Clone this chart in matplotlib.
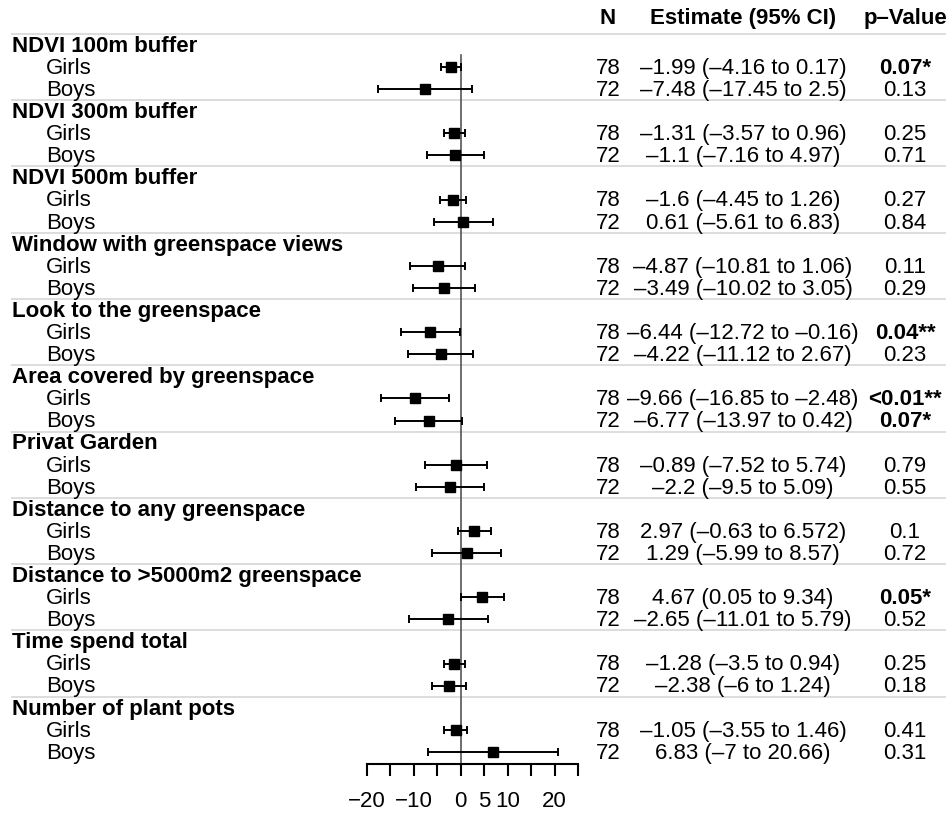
import matplotlib
matplotlib.use("Agg")
import matplotlib.pyplot as plt
import matplotlib.transforms as mtransforms
import numpy as np

plt.rcParams['font.family'] = ['Liberation Sans', 'DejaVu Sans']

# exposures (one group per exposure, girls and boys inside each)
groups = ['NDVI 100m buffer', 'NDVI 300m buffer', 'NDVI 500m buffer',
          'Window with greenspace views', 'Look to the greenspace',
          'Area covered by greenspace', 'Privat Garden', 'Distance to any greenspace',
          'Distance to >5000m2 greenspace', 'Time spend total', 'Number of plant pots']
sexes = ['Girls', 'Boys']
n_girls, n_boys = 78, 72

est_girls = [-1.99, -1.31, -1.6, -4.87, -6.44, -9.66, -0.89, 2.97, 4.67, -1.28, -1.05]
lo_girls = [-4.16, -3.57, -4.45, -10.81, -12.72, -16.85, -7.52, -0.63, 0.05, -3.5, -3.55]
hi_girls = [0.17, 0.96, 1.26, 1.06, -0.16, -2.48, 5.74, 6.572, 9.34, 0.94, 1.46]
p_girls = ['0.07*', '0.25', '0.27', '0.11', '0.04**', '<0.01**', '0.79', '0.1', '0.05*', '0.25', '0.41']

est_boys = [-7.48, -1.1, 0.61, -3.49, -4.22, -6.77, -2.2, 1.29, -2.65, -2.38, 6.83]
lo_boys = [-17.45, -7.16, -5.61, -10.02, -11.12, -13.97, -9.5, -5.99, -11.01, -6, -7]
hi_boys = [2.5, 4.97, 6.83, 3.05, 2.67, 0.42, 5.09, 8.57, 5.79, 1.24, 20.66]
p_boys = ['0.13', '0.71', '0.84', '0.29', '0.23', '0.07*', '0.55', '0.72', '0.52', '0.18', '0.31']

xticks = [-20, -15, -10, -5, 0, 5, 10, 15, 20, 25]
xtick_labels = ['\u221220', '', '\u221210', '', '0', '5', '10', '', '20', '']


def fmt(v):
    return f'{v:g}'.replace('-', '\u2013')


def est_text(e, lo, hi):
    return f'{fmt(e)} ({fmt(lo)} to {fmt(hi)})'


W, H = 946, 813
fig = plt.figure(figsize=(W / 100, H / 100), dpi=100)

# background axes in pixel units, used for the table part
bg = fig.add_axes([0, 0, 1, 1])
bg.set_xlim(0, W)
bg.set_ylim(H, 0)
bg.axis('off')

# forest panel
row0, row_h = 45, 22.09
ax_top, ax_bot = 33, 764
ax_l, ax_r = 366.5, 578
ax = fig.add_axes([ax_l / W, (H - ax_bot) / H, (ax_r - ax_l) / W, (ax_bot - ax_top) / H])
ax.set_xlim(-20, 25)
ax.set_ylim((ax_bot - row0) / row_h, (ax_top - row0) / row_h)
ax.patch.set_alpha(0)

trans = mtransforms.blended_transform_factory(bg.transData, ax.transData)

rows_g = np.arange(len(groups)) * 3
rows_girls = rows_g + 1
rows_boys = rows_g + 2

fs = 16
dy = 0.06  # text sits a touch below the row centre
x_n, x_est, x_p = 608, 743, 905

# separators
for r in rows_g:
    bg.plot([12, W], [r - 0.5, r - 0.5], transform=trans, color='#dddddd', lw=1.4, zorder=0)

# header
hy = -1.2
bg.text(x_n, hy, 'N', transform=trans, ha='center', va='center', fontsize=fs, fontweight='bold')
bg.text(x_est, hy, 'Estimate (95% CI)', transform=trans, ha='center', va='center', fontsize=fs, fontweight='bold')
bg.text(x_p, hy, 'p\u2013Value', transform=trans, ha='center', va='center', fontsize=fs, fontweight='bold')

for i, g in enumerate(groups):
    bg.text(12, rows_g[i] + dy, g, transform=trans, ha='left', va='center', fontsize=fs, fontweight='bold')
    rows = [rows_girls[i], rows_boys[i]]
    ns = [n_girls, n_boys]
    ests = [(est_girls[i], lo_girls[i], hi_girls[i]), (est_boys[i], lo_boys[i], hi_boys[i])]
    ps = [p_girls[i], p_boys[i]]
    for r, s, n, e, p in zip(rows, sexes, ns, ests, ps):
        bg.text(46, r + dy, s, transform=trans, ha='left', va='center', fontsize=fs)
        bg.text(x_n, r + dy, str(n), transform=trans, ha='center', va='center', fontsize=fs)
        bg.text(x_est, r + dy, est_text(*e), transform=trans, ha='center', va='center', fontsize=fs)
        bold = 'bold' if '*' in p else 'normal'
        bg.text(x_p, r + dy, p, transform=trans, ha='center', va='center',
                fontsize=fs, fontweight=bold)

# reference line at zero
ax.plot([0, 0], [0.45, ax.get_ylim()[0]], color='#555555', lw=1.2, zorder=1)

est = np.array(est_girls + est_boys)
lo = np.array(lo_girls + lo_boys)
hi = np.array(hi_girls + hi_boys)
ypos = np.concatenate([rows_girls, rows_boys])
ax.errorbar(est, ypos, xerr=[est - lo, hi - est], fmt='s', color='black', ms=6.8,
            elinewidth=1.4, capsize=3, capthick=1.4, zorder=3)

for side in ['top', 'right', 'left']:
    ax.spines[side].set_visible(False)
ax.spines['bottom'].set_linewidth(1.5)
ax.set_yticks([])
ax.set_xticks(xticks)
ax.set_xticklabels(xtick_labels)
ax.tick_params(axis='x', direction='out', length=8.5, width=1.5, pad=11, labelsize=fs)

fig.savefig('out.png', dpi=100)
